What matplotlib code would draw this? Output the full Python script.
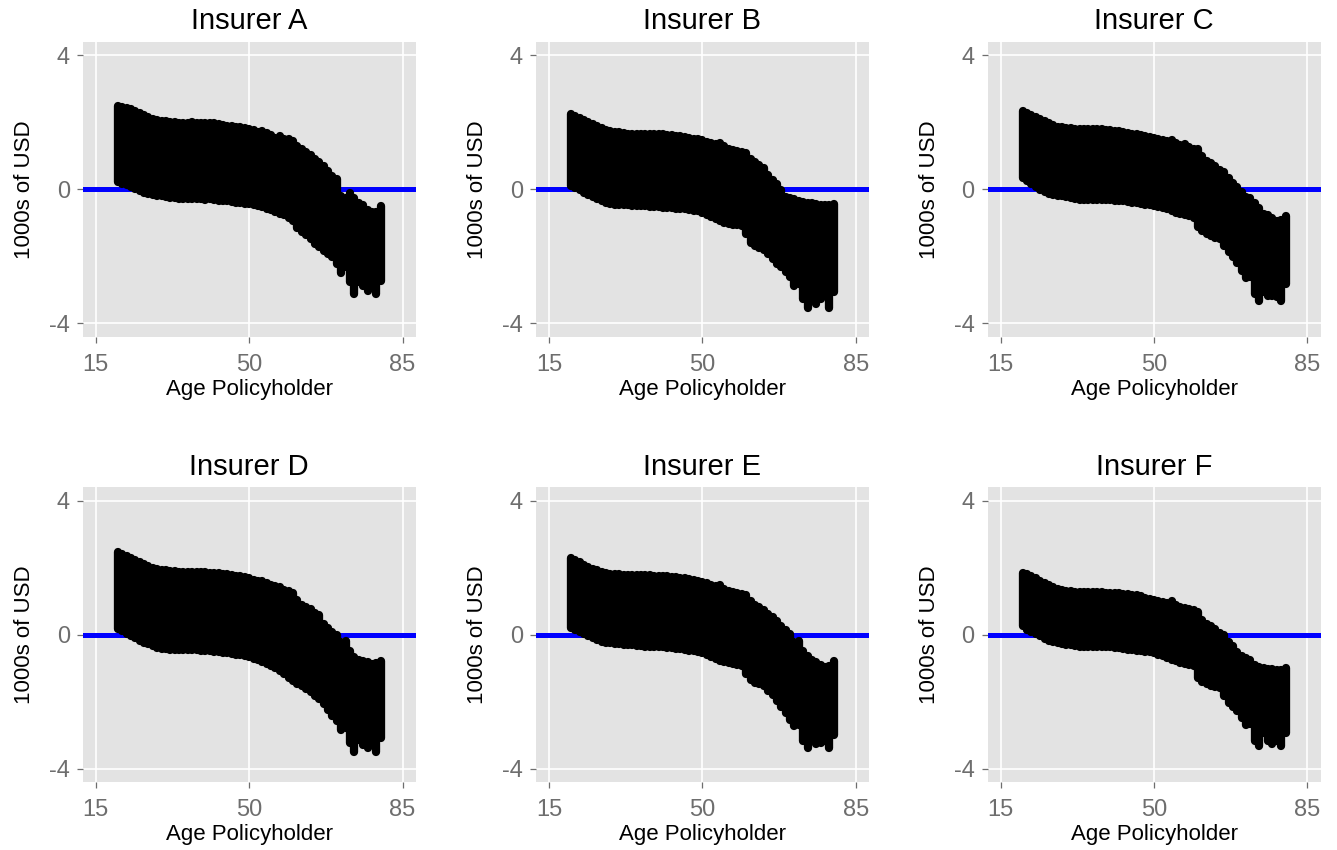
import matplotlib
matplotlib.use("Agg")
import matplotlib.pyplot as plt

plt.rcParams["font.family"] = ["Liberation Sans", "DejaVu Sans"]
plt.rcParams["axes.unicode_minus"] = False

# Policyholder ages (one column of predictions per age)
ages = list(range(20, 81))

# Upper / lower extent of predicted profit per age (1000s of USD)
top_a = [2.48, 2.46, 2.42, 2.38, 2.33, 2.28, 2.21, 2.15, 2.09, 2.06, 2.04, 2.02, 2.01, 1.99, 1.98, 1.98,
         1.98, 1.99, 1.97, 1.97, 1.96, 1.98, 1.96, 1.94, 1.92, 1.90, 1.89, 1.87, 1.85, 1.83, 1.80, 1.76,
         1.72, 1.74, 1.68, 1.62, 1.54, 1.58, 1.49, 1.50, 1.43, 1.29, 1.19, 1.12, 1.02, 0.90, 0.80, 0.68,
         0.55, 0.40, 0.30, -0.20, -0.25, -0.10, -0.25, -0.42, -0.48, -0.62, -0.67, -0.67, -0.50]
bot_a = [0.22, 0.17, 0.12, 0.07, 0.00, -0.06, -0.12, -0.15, -0.18, -0.20, -0.21, -0.23, -0.25, -0.26,
         -0.28, -0.28, -0.28, -0.30, -0.28, -0.30, -0.31, -0.28, -0.32, -0.34, -0.35, -0.36, -0.38, -0.40,
         -0.42, -0.44, -0.45, -0.48, -0.51, -0.54, -0.58, -0.63, -0.68, -0.73, -0.78, -0.85, -0.96, -1.16,
         -1.28, -1.38, -1.50, -1.63, -1.73, -1.83, -1.93, -2.03, -2.23, -2.50, -2.33, -2.78, -3.14, -2.76,
         -2.88, -3.04, -2.88, -3.14, -2.73]

top_b = [2.25, 2.19, 2.13, 2.07, 2.01, 1.94, 1.88, 1.83, 1.76, 1.73, 1.71, 1.70, 1.68, 1.66, 1.66, 1.66,
         1.66, 1.66, 1.65, 1.65, 1.64, 1.64, 1.63, 1.62, 1.60, 1.59, 1.57, 1.54, 1.51, 1.49, 1.46, 1.42,
         1.38, 1.36, 1.39, 1.28, 1.21, 1.18, 1.15, 1.12, 1.08, 0.90, 0.80, 0.73, 0.64, 0.43, 0.28, 0.15,
         -0.02, -0.22, -0.27, -0.30, -0.34, -0.37, -0.40, -0.42, -0.45, -0.46, -0.47, -0.47, -0.45]
bot_b = [0.09, 0.03, -0.03, -0.10, -0.18, -0.23, -0.28, -0.35, -0.41, -0.45, -0.46, -0.47, -0.48, -0.48,
         -0.49, -0.50, -0.50, -0.51, -0.52, -0.53, -0.54, -0.55, -0.56, -0.57, -0.58, -0.58, -0.60, -0.62,
         -0.64, -0.66, -0.70, -0.76, -0.83, -0.88, -0.96, -1.00, -1.05, -1.07, -1.08, -1.10, -1.33, -1.60,
         -1.68, -1.75, -1.80, -1.93, -2.08, -2.23, -2.33, -2.46, -2.63, -2.88, -2.83, -3.28, -3.53, -3.14,
         -3.43, -3.28, -3.18, -3.53, -3.08]

top_c = [2.33, 2.28, 2.22, 2.16, 2.09, 2.03, 1.97, 1.91, 1.87, 1.85, 1.83, 1.82, 1.81, 1.80, 1.79, 1.79,
         1.79, 1.79, 1.79, 1.78, 1.77, 1.75, 1.74, 1.72, 1.69, 1.66, 1.64, 1.62, 1.59, 1.56, 1.53, 1.50,
         1.47, 1.44, 1.46, 1.38, 1.32, 1.35, 1.26, 1.21, 1.19, 0.98, 0.85, 0.78, 0.68, 0.56, 0.50, 0.33,
         0.18, 0.06, -0.07, -0.22, -0.27, -0.42, -0.57, -0.75, -0.78, -0.87, -0.94, -0.92, -0.80]
bot_c = [0.34, 0.24, 0.15, 0.07, -0.01, -0.09, -0.14, -0.17, -0.19, -0.21, -0.23, -0.26, -0.29, -0.31,
         -0.31, -0.31, -0.31, -0.32, -0.32, -0.33, -0.33, -0.34, -0.35, -0.36, -0.38, -0.40, -0.42, -0.44,
         -0.46, -0.48, -0.50, -0.53, -0.56, -0.60, -0.65, -0.71, -0.75, -0.78, -0.80, -0.86, -1.13, -1.26,
         -1.33, -1.40, -1.45, -1.50, -1.68, -1.88, -2.03, -2.19, -2.43, -2.64, -2.63, -3.13, -3.34, -3.08,
         -3.18, -3.18, -3.23, -3.34, -2.84]

top_d = [2.47, 2.41, 2.35, 2.30, 2.24, 2.17, 2.11, 2.05, 1.99, 1.96, 1.93, 1.92, 1.90, 1.89, 1.88, 1.88,
         1.88, 1.87, 1.87, 1.87, 1.86, 1.85, 1.84, 1.83, 1.81, 1.80, 1.78, 1.76, 1.74, 1.71, 1.68, 1.64,
         1.61, 1.60, 1.56, 1.50, 1.45, 1.43, 1.35, 1.30, 1.26, 1.03, 0.90, 0.83, 0.76, 0.65, 0.58, 0.33,
         0.20, 0.08, -0.02, -0.20, -0.19, -0.47, -0.67, -0.74, -0.79, -0.82, -0.86, -0.84, -0.79]
bot_d = [0.17, 0.10, 0.03, -0.04, -0.11, -0.18, -0.23, -0.28, -0.33, -0.38, -0.41, -0.43, -0.44, -0.45,
         -0.45, -0.45, -0.45, -0.45, -0.46, -0.47, -0.48, -0.49, -0.51, -0.52, -0.53, -0.55, -0.57, -0.59,
         -0.61, -0.64, -0.67, -0.72, -0.76, -0.82, -0.88, -0.93, -1.00, -1.08, -1.18, -1.28, -1.38, -1.46,
         -1.54, -1.61, -1.70, -1.83, -1.93, -2.06, -2.23, -2.43, -2.58, -2.83, -2.78, -3.23, -3.50, -3.13,
         -3.28, -3.37, -3.28, -3.50, -3.08]

top_e = [2.29, 2.22, 2.16, 2.09, 2.03, 1.97, 1.92, 1.88, 1.84, 1.82, 1.81, 1.80, 1.79, 1.79, 1.78, 1.78,
         1.78, 1.77, 1.77, 1.76, 1.76, 1.75, 1.74, 1.73, 1.71, 1.70, 1.68, 1.66, 1.64, 1.61, 1.58, 1.54,
         1.50, 1.46, 1.48, 1.38, 1.30, 1.28, 1.25, 1.23, 1.18, 1.00, 0.90, 0.83, 0.73, 0.62, 0.54, 0.40,
         0.26, 0.13, 0.01, -0.20, -0.19, -0.47, -0.64, -0.74, -0.82, -0.90, -0.96, -0.92, -0.79]
bot_e = [0.20, 0.14, 0.08, 0.02, -0.05, -0.11, -0.16, -0.20, -0.23, -0.25, -0.26, -0.28, -0.29, -0.30,
         -0.31, -0.32, -0.33, -0.35, -0.35, -0.36, -0.36, -0.37, -0.38, -0.40, -0.41, -0.43, -0.45, -0.47,
         -0.49, -0.51, -0.55, -0.60, -0.66, -0.72, -0.77, -0.81, -0.84, -0.88, -0.91, -0.94, -1.18, -1.34,
         -1.43, -1.48, -1.54, -1.68, -1.81, -1.98, -2.16, -2.33, -2.53, -2.73, -2.68, -3.18, -3.37, -3.01,
         -3.27, -3.23, -3.18, -3.37, -2.98]

top_f = [1.85, 1.80, 1.74, 1.68, 1.60, 1.54, 1.48, 1.42, 1.37, 1.34, 1.32, 1.30, 1.29, 1.28, 1.28, 1.27,
         1.27, 1.27, 1.27, 1.26, 1.26, 1.25, 1.24, 1.23, 1.22, 1.20, 1.18, 1.15, 1.11, 1.07, 1.04, 1.00,
         0.98, 0.96, 1.00, 0.90, 0.83, 0.80, 0.76, 0.73, 0.68, 0.43, 0.33, 0.26, 0.16, 0.06, -0.02, -0.22,
         -0.34, -0.52, -0.64, -0.70, -0.74, -0.90, -0.96, -0.98, -1.01, -1.03, -1.06, -1.04, -0.98]
bot_f = [0.25, 0.15, 0.08, 0.02, -0.05, -0.13, -0.18, -0.22, -0.25, -0.27, -0.29, -0.31, -0.33, -0.35,
         -0.35, -0.35, -0.35, -0.36, -0.36, -0.37, -0.37, -0.38, -0.40, -0.42, -0.44, -0.45, -0.47, -0.49,
         -0.50, -0.52, -0.55, -0.59, -0.64, -0.68, -0.74, -0.79, -0.83, -0.86, -0.89, -0.93, -1.28, -1.40,
         -1.46, -1.52, -1.56, -1.59, -1.83, -2.03, -2.16, -2.28, -2.48, -2.68, -2.66, -3.18, -3.32, -2.93,
         -3.18, -3.27, -3.18, -3.32, -2.93]

insurers = ["Insurer A", "Insurer B", "Insurer C", "Insurer D", "Insurer E", "Insurer F"]
tops = [top_a, top_b, top_c, top_d, top_e, top_f]
bottoms = [bot_a, bot_b, bot_c, bot_d, bot_e, bot_f]

x_ticks = [15, 50, 85]
y_ticks = [-4, 0, 4]
y_tick_labels = ["-4", "0", "4"]

panel_bg = "#E3E3E3"
tick_grey = "#6E6E6E"
dot_px = 8.3  # point diameter in pixels

DPI = 100
W, H = 1337, 850
fig = plt.figure(figsize=(W / DPI, H / DPI), dpi=DPI, facecolor="white")

col_left = [82.7, 535.9, 987.6]
row_top = [41.7, 487.3]
ax_w, ax_h = 333.0, 295.0

for i, (name, hi, lo) in enumerate(zip(insurers, tops, bottoms)):
    r, c = divmod(i, 3)
    ax = fig.add_axes([col_left[c] / W, 1 - (row_top[r] + ax_h) / H, ax_w / W, ax_h / H])
    ax.set_facecolor(panel_bg)
    ax.set_xlim(12, 88)
    ax.set_ylim(-4.4, 4.4)

    ax.set_xticks(x_ticks)
    ax.set_yticks(y_ticks)
    ax.set_yticklabels(y_tick_labels)
    ax.grid(True, color="white", linewidth=1.2, zorder=0)
    ax.set_axisbelow(True)
    for s in ax.spines.values():
        s.set_visible(False)
    ax.tick_params(axis="both", direction="out", length=4.3, width=0.9, color=tick_grey,
                   labelcolor=tick_grey, labelsize=17)
    ax.tick_params(axis="x", pad=8)
    ax.tick_params(axis="y", pad=5)

    ax.axhline(0, color="#0000FF", linewidth=3.6, zorder=2)

    lc = ax.vlines(ages, lo, hi, colors="black", linewidth=dot_px * 72 / DPI, zorder=3)
    lc.set_capstyle("round")

    ax.set_title(name, fontsize=21, pad=9)
    ax.set_xlabel("Age Policyholder", fontsize=16, labelpad=2)
    ax.set_ylabel("1000s of USD", fontsize=16, labelpad=10)

fig.savefig("out.png", dpi=DPI, facecolor="white")
